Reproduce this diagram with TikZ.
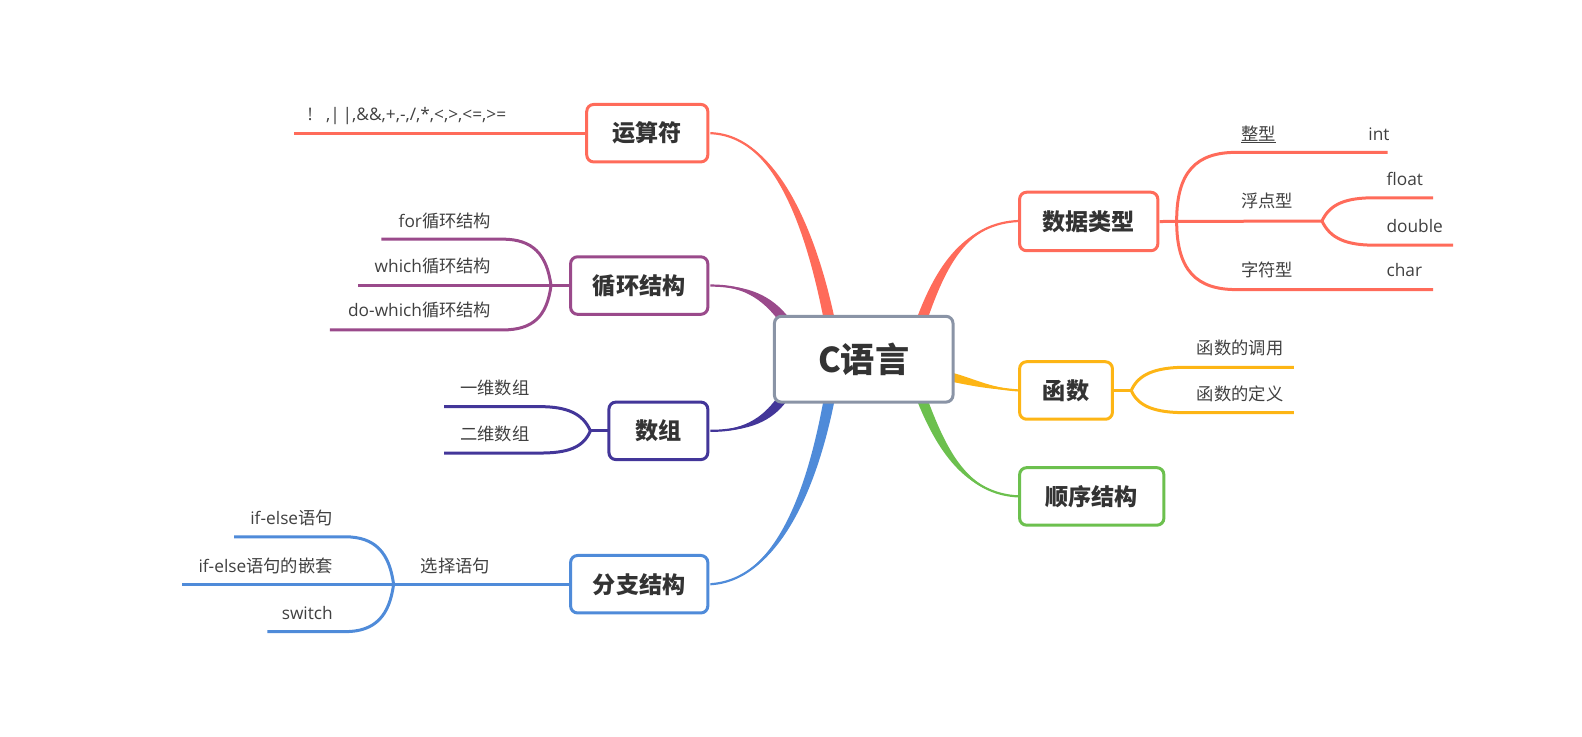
\documentclass[tikz,border=0pt]{standalone}
\usepackage{fontspec}
\setmainfont{Noto Sans CJK SC}
\newfontfamily\lat{Open Sans}
\usetikzlibrary{calc}
\definecolor{cred}{HTML}{FF6B5A}
\definecolor{cpur}{HTML}{9A4A8B}
\definecolor{cind}{HTML}{433699}
\definecolor{cblu}{HTML}{4F8BD9}
\definecolor{cora}{HTML}{FDB515}
\definecolor{cgrn}{HTML}{6CC04E}
\definecolor{cgry}{HTML}{8A94A6}
\definecolor{ctxt}{HTML}{333333}
\definecolor{clab}{HTML}{404040}
% tapered main branch: colour, start, c1, c2, end, half-width vector
\newcommand\tbranch[6]{%
  \fill[#1] (#2) .. controls ($(#3)+0.25*(#6)$) and ($(#4)+0.9*(#6)$) .. ($(#5)+(#6)$)
     -- ($(#5)-(#6)$) .. controls ($(#4)-0.9*(#6)$) and ($(#3)-0.25*(#6)$) .. (#2) -- cycle;
  \draw[#1, line width=2.2bp] (#2) .. controls (#3) and (#4) .. (#5);}
\begin{document}
\begin{tikzpicture}[x=1bp,y=-1bp,
  topic/.style={draw=#1, line width=3bp, rounded corners=7bp, fill=white, minimum height=57bp, inner sep=0pt,
    font=\bfseries\fontsize{23}{27}\selectfont, text=ctxt},
  sub/.style={draw=#1, line width=3bp},
  lab/.style={inner sep=0pt, font=\fontsize{17.2}{20}\selectfont, text=clab}]
\useasboundingbox (0,0) rectangle (1582,737);
\begin{scope}[scale=1.009, transform shape]
% ---- ends of the main branches (under the central box)
\coordinate (cys) at (822,318);
\coordinate (csj) at (913,318);
\coordinate (cxh) at (778,318);
\coordinate (csz) at (776,394);
\coordinate (cfz) at (822,394);
\coordinate (chs) at (944,374);
\coordinate (csx) at (913,394);

% ---- main tapered branches
\tbranch{cred}{704,132}{772,134}{806,238}{cys}{5.5,0}
\tbranch{cred}{1010,219}{958,221}{933,262}{csj}{5.5,0}
\tbranch{cpur}{704,283}{742,283}{762,297}{cxh}{3.5,-3.5}
\tbranch{cind}{704,427}{742,427}{762,414}{csz}{3.5,3.5}
\tbranch{cblu}{704,579}{772,575}{806,480}{cfz}{5.5,0}
\tbranch{cora}{1010,387}{980,385}{962,378}{chs}{0,4.5}
\tbranch{cgrn}{1010,492}{958,490}{933,446}{csx}{5.5,0}

% ---- topic nodes
\node[topic=cgry, minimum width=177bp, minimum height=85bp, font=\bfseries\fontsize{34}{40}\selectfont] (c) at (856,356) {C语言};
\node[topic=cred, minimum width=120bp] (ys) at (641.5,132) {运算符};
\node[topic=cpur, minimum width=136bp] (xh) at (633.5,283) {循环结构};
\node[topic=cind, minimum width=98bp] (sz) at (652.5,427) {数组};
\node[topic=cblu, minimum width=136bp] (fz) at (633.5,579) {分支结构};
\node[topic=cred, minimum width=137bp, minimum height=58bp] (sj) at (1079,219.5) {数据类型};
\node[topic=cora, minimum width=92bp] (hs) at (1056.5,387) {函数};
\node[topic=cgrn, minimum width=143bp] (sx) at (1082,492) {顺序结构};

% ---- 运算符
\coordinate (ys1) at (291,132);
\draw[sub=cred] (ys.west) -- (ys1);
\node[lab, anchor=base west] (ysl) at (305,119) {\lat !\ \ \ ,|\,|,\&\&,+,-,/,*,<,>,<=,>=};

% ---- 循环结构
\coordinate (xhf) at (546,283);
\coordinate (xh1) at (378,237);
\coordinate (xh2) at (355,283);
\coordinate (xh3) at (327,327);
\draw[sub=cpur] (xh.west) -- (xhf);
\draw[sub=cpur] (xhf) .. controls (542,252) and (528,237) .. (498,237) -- (xh1);
\draw[sub=cpur] (xhf) -- (xh2);
\draw[sub=cpur] (xhf) .. controls (542,314) and (528,327) .. (498,327) -- (xh3);
\node[lab, anchor=base east] (xhl1) at (487,225) {{\lat for}循环结构};
\node[lab, anchor=base east] (xhl2) at (487,270) {{\lat which}循环结构};
\node[lab, anchor=base east] (xhl3) at (487,314) {{\lat do-which}循环结构};

% ---- 数组
\coordinate (szf) at (585,427);
\coordinate (sz1) at (440,403);
\coordinate (sz2) at (440,449);
\draw[sub=cind] (sz.west) -- (szf);
\draw[sub=cind] (szf) .. controls (578,410) and (562,403) .. (535,403) -- (sz1);
\draw[sub=cind] (szf) .. controls (578,444) and (562,449) .. (535,449) -- (sz2);
\node[lab, anchor=base east] (szl1) at (525,391) {一维数组};
\node[lab, anchor=base east] (szl2) at (525,437) {二维数组};

% ---- 分支结构
\coordinate (fzf) at (390,579);
\coordinate (fz1) at (232,532);
\coordinate (fz2) at (180,579);
\coordinate (fz3) at (265,626);
\draw[sub=cblu] (fz.west) -- (fzf);
\draw[sub=cblu] (fzf) .. controls (386,548) and (372,532) .. (342,532) -- (fz1);
\draw[sub=cblu] (fzf) -- (fz2);
\draw[sub=cblu] (fzf) .. controls (386,610) and (372,626) .. (342,626) -- (fz3);
\node[lab, anchor=base west] (fzl) at (417,567) {选择语句};
\node[lab, anchor=base east] (fzl1) at (330,520) {{\lat if-else}语句};
\node[lab, anchor=base east] (fzl2) at (330,567) {{\lat if-else}语句的嵌套};
\node[lab, anchor=base east] (fzl3) at (330,614) {\lat switch};

% ---- 数据类型
\coordinate (sjf) at (1166,219);
\coordinate (sj1) at (1375,151);
\coordinate (sjf2) at (1310,219);
\coordinate (sj3) at (1420,287);
\coordinate (sj21) at (1420,196);
\coordinate (sj22) at (1440,243);
\draw[sub=cred] (sj.east) -- (sjf2);
\draw[sub=cred] (sjf) .. controls (1166,170) and (1186,151) .. (1225,151) -- (sj1);
\draw[sub=cred] (sjf) .. controls (1166,268) and (1186,287) .. (1225,287) -- (sj3);
\draw[sub=cred] (sjf2) .. controls (1318,202) and (1334,196) .. (1362,196) -- (sj21);
\draw[sub=cred] (sjf2) .. controls (1318,236) and (1334,243) .. (1362,243) -- (sj22);
\node[lab, anchor=base west] (sjl1) at (1230,139) {\underline{整型}};
\node[lab, anchor=base west] (sjl1b) at (1356,139) {\lat int};
\node[lab, anchor=base west] (sjl2) at (1230,206) {浮点型};
\node[lab, anchor=base west] (sjl21) at (1374,184) {\lat float};
\node[lab, anchor=base west] (sjl22) at (1374,230) {\lat double};
\node[lab, anchor=base west] (sjl3) at (1230,274) {字符型};
\node[lab, anchor=base west] (sjl3b) at (1374,274) {\lat char};

% ---- 函数
\coordinate (hsf) at (1121,387);
\coordinate (hs1) at (1282,364);
\coordinate (hs2) at (1282,409);
\draw[sub=cora] (hs.east) -- (hsf);
\draw[sub=cora] (hsf) .. controls (1128,371) and (1145,364) .. (1175,364) -- (hs1);
\draw[sub=cora] (hsf) .. controls (1128,403) and (1145,409) .. (1175,409) -- (hs2);
\node[lab, anchor=base west] (hsl1) at (1186,351) {函数的调用};
\node[lab, anchor=base west] (hsl2) at (1186,397) {函数的定义};
\end{scope}
\end{tikzpicture}
\end{document}
